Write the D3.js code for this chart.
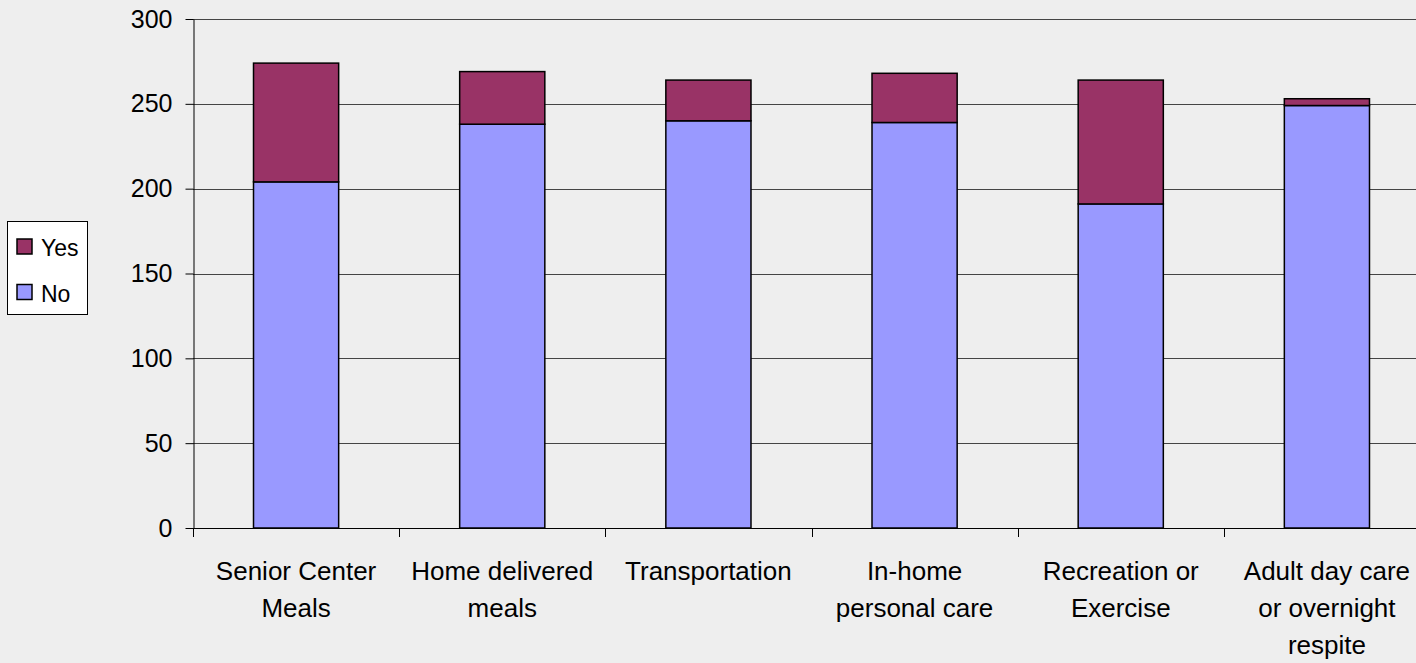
<!DOCTYPE html>
<html><head><meta charset="utf-8">
<script src="https://cdn.jsdelivr.net/npm/d3@7"></script>
<style>
html,body{margin:0;padding:0;background:#eeeeee;}
svg{display:block;font-family:"Liberation Sans",Arial,sans-serif;}
</style></head>
<body>
<svg id="chart" width="1416" height="663"></svg>
<script>
const categories = ["Senior Center Meals","Home delivered meals","Transportation","In-home personal care","Recreation or Exercise","Adult day care or overnight respite"];
const labelLines = [["Senior Center","Meals"],["Home delivered","meals"],["Transportation"],["In-home","personal care"],["Recreation or","Exercise"],["Adult day care","or overnight","respite"]];
const noValues = [204, 238, 240, 239, 191, 249];
const yesValues = [70, 31, 24, 29, 73, 4];
const yTicks = [0, 50, 100, 150, 200, 250, 300];
const seriesNames = ["Yes", "No"];
const colors = {Yes: "#993366", No: "#9999ff"};

(function(){
const svg = d3.select("#chart");
const pLeft = 193, pRight = 1430, pTop = 19, pBottom = 528;

const x = d3.scaleBand().domain(categories).range([pLeft, pRight]).padding(0);
const y = d3.scaleLinear().domain([0, 300]).range([pBottom, pTop]);

// gridlines
svg.append("g").selectAll("line").data(yTicks.filter(t => t > 0)).join("line")
  .attr("x1", pLeft).attr("x2", 1416)
  .attr("y1", d => Math.round(y(d)) + 0.5).attr("y2", d => Math.round(y(d)) + 0.5)
  .attr("stroke", "#444").attr("stroke-width", 1);

const data = categories.map((c, i) => ({cat: c, No: noValues[i], Yes: yesValues[i]}));
const stack = d3.stack().keys(["No", "Yes"])(data);
const bw = x.bandwidth() * 0.413;

svg.append("g").selectAll("g").data(stack).join("g")
  .attr("fill", d => colors[d.key])
  .selectAll("rect").data(d => d).join("rect")
  .attr("x", d => x(d.data.cat) + (x.bandwidth() - bw) / 2)
  .attr("width", bw)
  .attr("y", d => y(d[1]))
  .attr("height", d => y(d[0]) - y(d[1]))
  .attr("stroke", "#000").attr("stroke-width", 1.5);

// y axis
const yAxis = d3.axisLeft(y).tickValues(yTicks).tickSize(8).tickPadding(13).tickSizeOuter(0);
const gy = svg.append("g").attr("transform", `translate(${pLeft + 0.5},0)`).call(yAxis);
gy.select(".domain").attr("stroke", "#000");
gy.selectAll(".tick line").attr("stroke", "#000");
gy.selectAll(".tick text").attr("font-size", 25).attr("fill", "#000")
  .attr("font-family", '"Liberation Sans",Arial,sans-serif');

// x axis line and ticks at band boundaries
const boundaries = categories.map(c => x(c));
svg.append("line").attr("x1", pLeft).attr("x2", 1416)
  .attr("y1", pBottom + 0.5).attr("y2", pBottom + 0.5).attr("stroke", "#000");
svg.append("g").selectAll("line").data(boundaries).join("line")
  .attr("x1", d => Math.round(d) + 0.5).attr("x2", d => Math.round(d) + 0.5)
  .attr("y1", pBottom).attr("y2", pBottom + 9).attr("stroke", "#000");

// category labels
const lg = svg.append("g").attr("font-size", 26).attr("fill", "#000").attr("text-anchor", "middle");
categories.forEach((c, i) => {
  const t = lg.append("text").attr("x", x(c) + x.bandwidth() / 2).attr("y", 580);
  labelLines[i].forEach((ln, j) => {
    t.append("tspan").attr("x", x(c) + x.bandwidth() / 2).attr("dy", j === 0 ? 0 : 37).text(ln);
  });
});

// legend
const leg = svg.append("g");
leg.append("rect").attr("x", 7.5).attr("y", 221.5).attr("width", 80).attr("height", 93)
  .attr("fill", "#fff").attr("stroke", "#000").attr("stroke-width", 1);
seriesNames.forEach((s, i) => {
  const yy = 239 + i * 45.5;
  leg.append("rect").attr("x", 17).attr("y", yy).attr("width", 15).attr("height", 15)
    .attr("fill", colors[s]).attr("stroke", "#000").attr("stroke-width", 1.5);
  leg.append("text").attr("x", 41).attr("y", yy + 17).attr("font-size", 23).attr("fill", "#000").text(s);
});
})();
</script>
</body></html>
